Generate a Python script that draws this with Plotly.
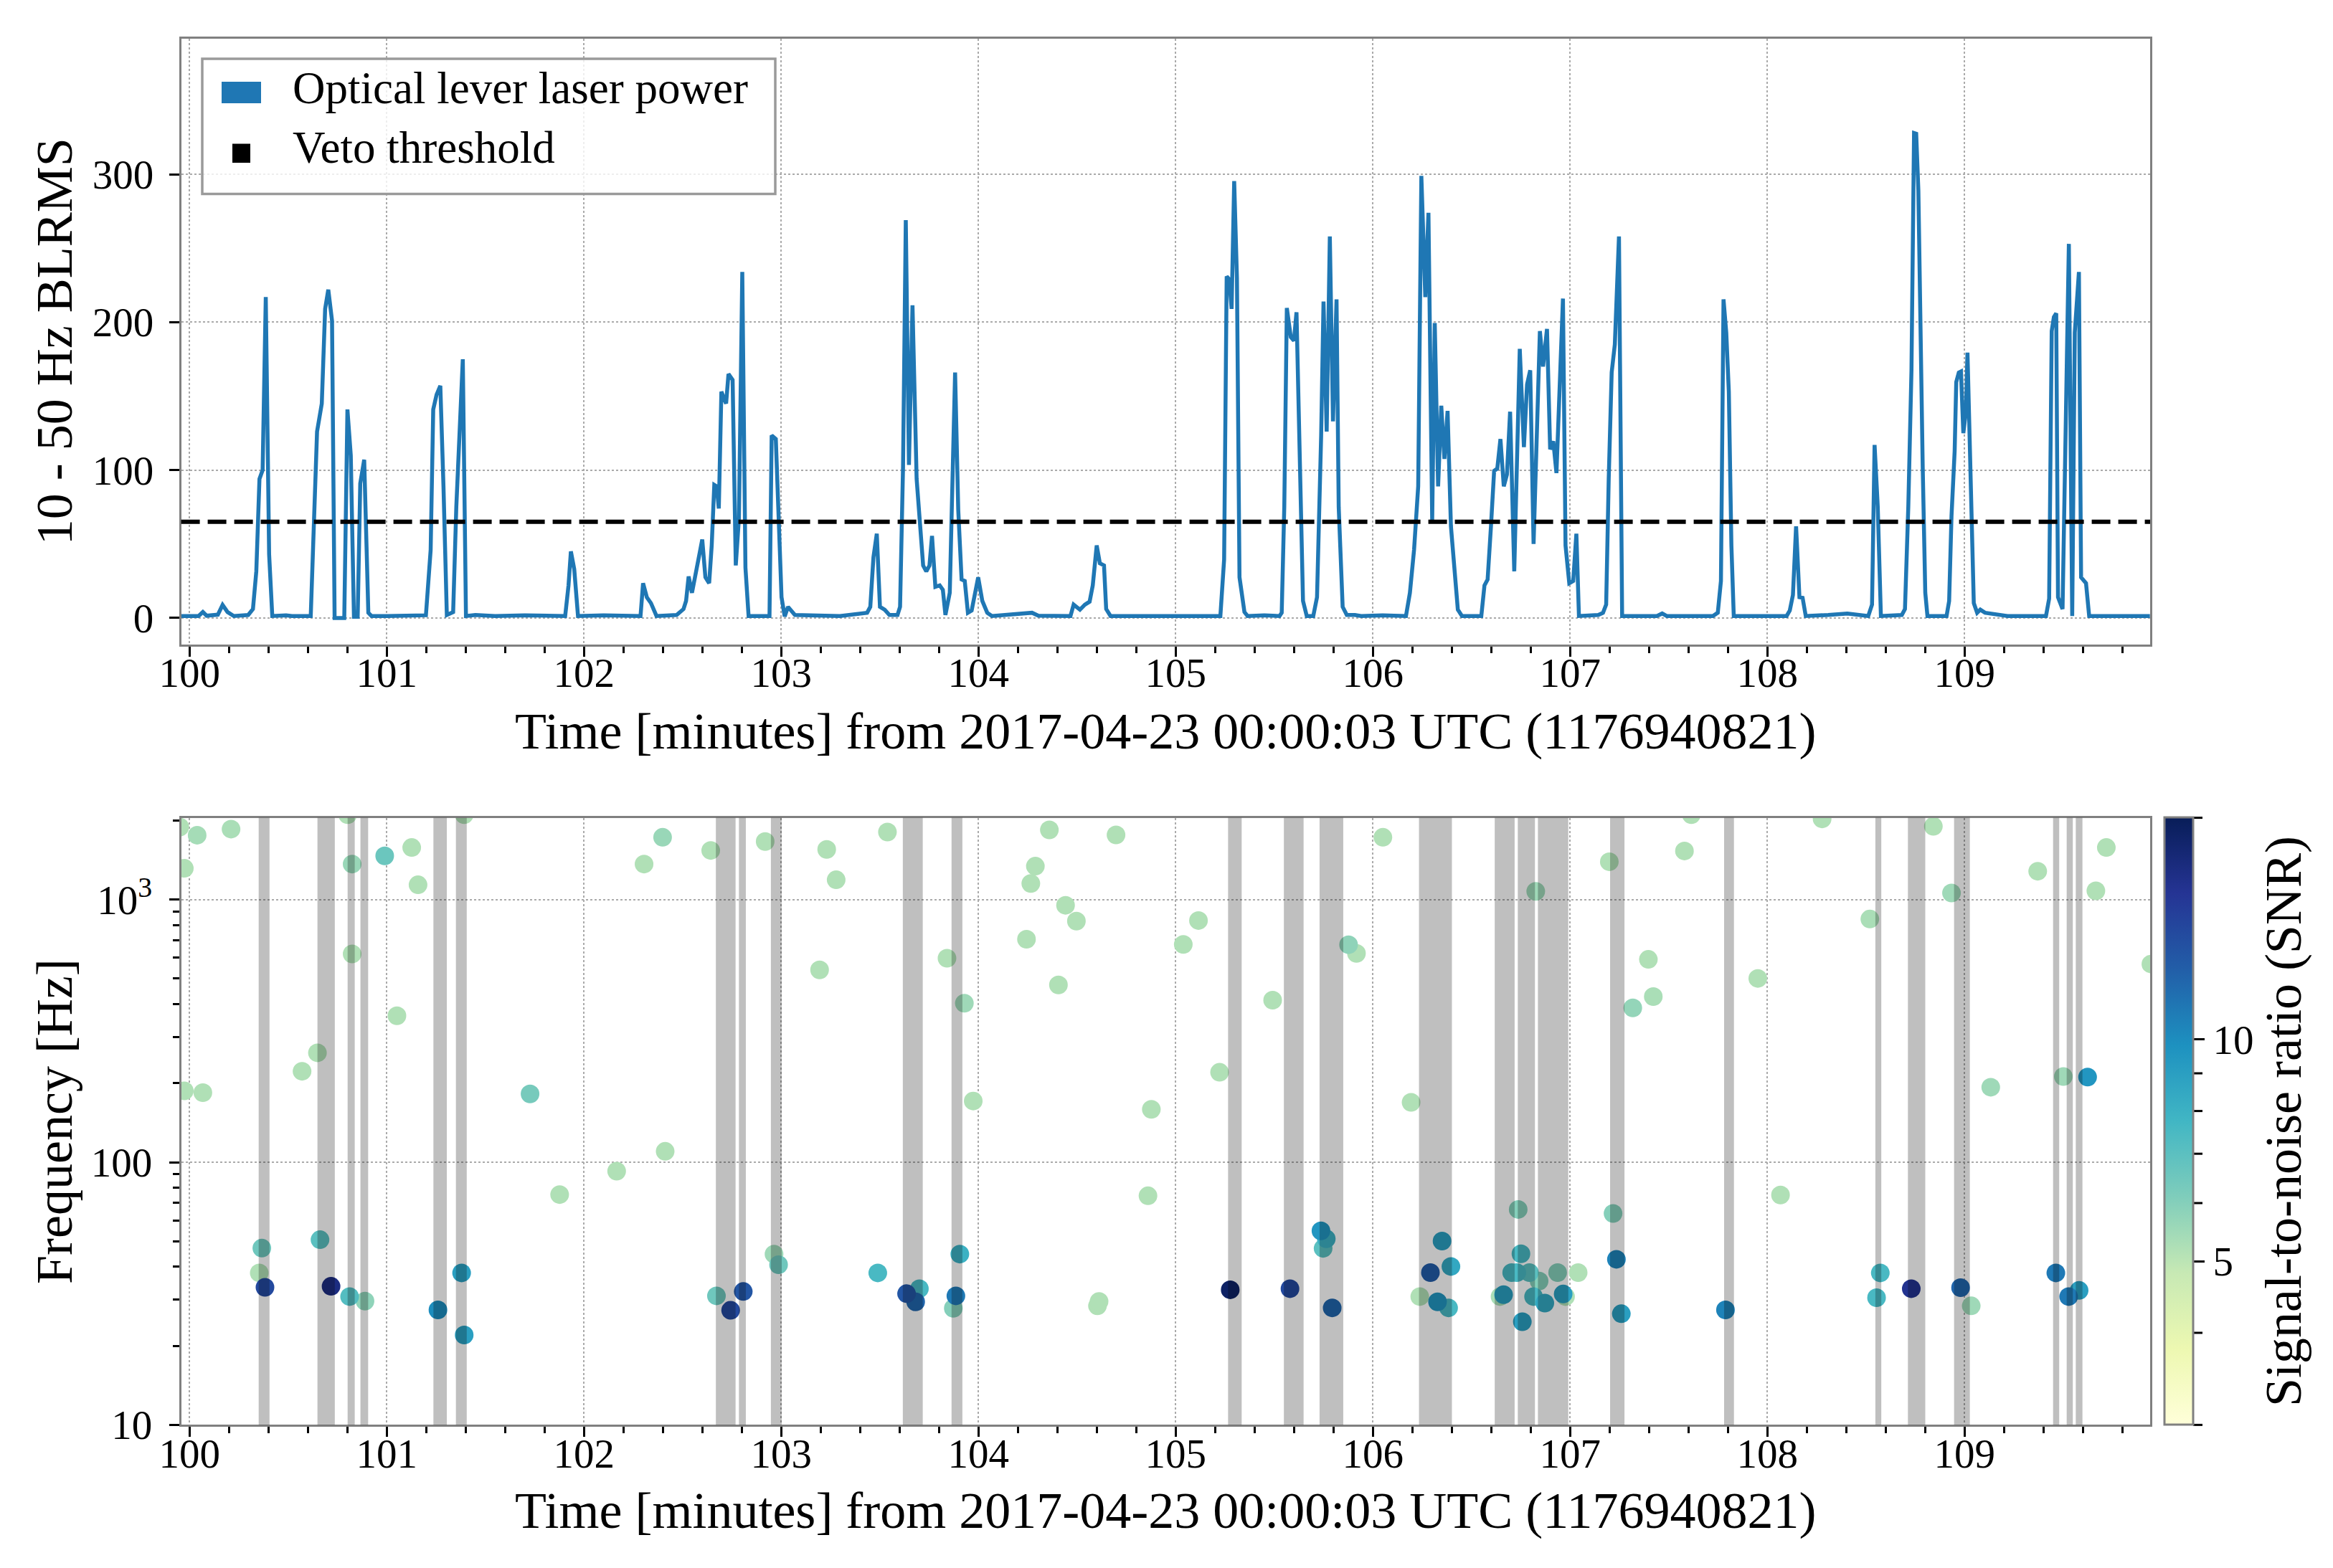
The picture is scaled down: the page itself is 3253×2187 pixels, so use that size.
import numpy as np
import plotly.graph_objects as go

W, H = 3253, 2187
FONT = "Liberation Serif"

# ---------------- data ----------------
BLRMS_T = [99.941, 100.046, 100.068, 100.087, 100.144, 100.168, 100.193, 100.225, 100.298, 100.322,
           100.339, 100.355, 100.371, 100.387, 100.404, 100.420, 100.490, 100.520, 100.615, 100.647,
           100.671, 100.688, 100.704, 100.723, 100.736, 100.785, 100.801, 100.818, 100.834, 100.853,
           100.866, 100.886, 100.907, 100.923, 101.000, 101.100, 101.199, 101.223, 101.236, 101.253,
           101.272, 101.288, 101.305, 101.337, 101.353, 101.386, 101.402, 101.450, 101.550, 101.700,
           101.905, 101.922, 101.934, 101.951, 101.970, 102.100, 102.287, 102.300, 102.319, 102.340,
           102.368, 102.470, 102.505, 102.518, 102.531, 102.548, 102.567, 102.583, 102.600, 102.616,
           102.635, 102.648, 102.661, 102.673, 102.684, 102.697, 102.721, 102.733, 102.754, 102.770,
           102.786, 102.803, 102.819, 102.835, 102.924, 102.941, 102.952, 102.973, 103.002, 103.018,
           103.035, 103.054, 103.070, 103.298, 103.436, 103.452, 103.468, 103.485, 103.501, 103.525,
           103.549, 103.590, 103.603, 103.618, 103.632, 103.648, 103.666, 103.687, 103.720, 103.736,
           103.752, 103.765, 103.782, 103.804, 103.820, 103.833, 103.855, 103.882, 103.898, 103.915,
           103.931, 103.947, 103.966, 103.999, 104.020, 104.045, 104.069, 104.272, 104.304, 104.467,
           104.483, 104.515, 104.540, 104.564, 104.580, 104.600, 104.616, 104.637, 104.648, 104.670,
           105.018, 105.227, 105.246, 105.259, 105.272, 105.284, 105.297, 105.311, 105.324, 105.349,
           105.365, 105.450, 105.527, 105.538, 105.551, 105.564, 105.584, 105.600, 105.613, 105.625,
           105.646, 105.665, 105.698, 105.717, 105.738, 105.750, 105.766, 105.782, 105.798, 105.816,
           105.827, 105.847, 105.868, 105.909, 105.941, 106.050, 106.168, 106.188, 106.209, 106.230,
           106.246, 106.266, 106.282, 106.301, 106.314, 106.331, 106.347, 106.363, 106.379, 106.396,
           106.412, 106.431, 106.452, 106.550, 106.566, 106.582, 106.599, 106.615, 106.631, 106.647,
           106.664, 106.680, 106.696, 106.717, 106.745, 106.766, 106.782, 106.798, 106.815, 106.847,
           106.863, 106.883, 106.899, 106.915, 106.931, 106.964, 106.977, 106.996, 107.016, 107.032,
           107.045, 107.143, 107.167, 107.183, 107.196, 107.211, 107.227, 107.248, 107.264, 107.350,
           107.440, 107.467, 107.490, 107.600, 107.724, 107.749, 107.765, 107.778, 107.792, 107.805,
           107.818, 107.830, 107.984, 108.098, 108.114, 108.130, 108.146, 108.163, 108.179, 108.195,
           108.309, 108.406, 108.512, 108.531, 108.544, 108.560, 108.576, 108.682, 108.698, 108.715,
           108.731, 108.744, 108.755, 108.766, 108.788, 108.801, 108.812, 108.909, 108.922, 108.934,
           108.950, 108.958, 108.971, 108.982, 108.994, 109.007, 109.015, 109.028, 109.039, 109.047,
           109.064, 109.080, 109.104, 109.218, 109.413, 109.429, 109.442, 109.453, 109.465, 109.474,
           109.497, 109.513, 109.529, 109.546, 109.559, 109.580, 109.591, 109.616, 109.632, 109.786,
           109.940]
BLRMS_V = [1.3, 1.3, 4.0, 1.5, 2.2, 8.8, 4.0, 1.3, 2.0, 6.0,
           31.5, 94, 100, 217, 43, 1.3, 1.8, 1.3, 1.3, 126,
           145, 209, 222, 201, 0.0, 0.0, 141, 110, 0.8, 0.8,
           91, 107, 3.5, 1.3, 1.3, 1.8, 1.8, 46, 141, 151,
           157, 89, 2.0, 4.0, 75, 175, 1.3, 2.0, 1.3, 1.8,
           1.3, 22, 45, 33, 1.3, 1.8, 1.3, 23.5, 14, 10,
           1.3, 2.0, 6.0, 11.5, 28, 17, 30, 41, 53, 27.5,
           23.5, 49, 90, 89, 74, 153, 145, 165, 161, 35.5,
           67.5, 234, 34, 1.3, 1.8, 1.3, 123.5, 121, 14, 1.0,
           7.5, 5.0, 2.0, 1.3, 3.5, 7.5, 41, 57, 7.5, 5.6,
           2.0, 2.0, 7.5, 102, 269, 103.5, 211.5, 94, 35.5, 31.5,
           35.5, 55.5, 21, 22, 19, 2.0, 17, 166, 73, 26,
           25, 3.5, 5.0, 27.5, 11.5, 3.5, 1.3, 3.5, 1.5, 1.3,
           9.0, 5.6, 9.0, 11, 22, 49, 37, 35.5, 6.0, 1.3,
           1.3, 1.3, 39.5, 231, 229, 209, 295.5, 230, 27.5, 4.0,
           1.3, 1.8, 1.3, 3.5, 75, 209.6, 190, 187.5, 206.7, 129,
           11.5, 1.3, 1.3, 14, 123.5, 214, 126, 258, 133, 215.5,
           75, 7.5, 2.0, 2.0, 1.3, 1.8, 1.3, 17, 46, 89,
           299, 217, 274, 66, 199.5, 89, 143.5, 107.5, 140, 62,
           38, 5.6, 1.3, 1.3, 22, 26, 62, 99.5, 101, 121,
           89, 97, 139.5, 31.5, 182, 115.5, 158, 167.5, 50, 194,
           170, 195.5, 114, 119.5, 98, 216, 49, 23.5, 25, 57,
           1.3, 2.0, 3.5, 9.0, 94, 166, 185, 258, 1.3, 1.3,
           1.3, 3.0, 1.3, 1.3, 1.3, 3.5, 25, 215.5, 193, 153,
           49, 1.3, 1.3, 1.3, 5.0, 15.5, 62, 14, 13.6, 1.3,
           2.0, 3.0, 1.3, 9.0, 117, 75.5, 1.3, 2.0, 6.0, 75.5,
           167.5, 328, 327.5, 289, 102, 17, 1.3, 1.3, 11.5, 69,
           113, 159.5, 166, 166.7, 125, 139.5, 179.5, 118, 49, 10,
           3.5, 5.6, 3.5, 1.3, 1.3, 13, 194, 203.5, 206, 14,
           6.0, 129, 253, 1.3, 193, 234, 27.5, 23.5, 1.3, 1.3,
           1.3]
THRESHOLD = 65

VETO_START = [100.351, 100.649, 100.802, 100.867, 101.237, 101.351, 102.669, 102.786, 102.948,
              103.617, 103.864, 105.266, 105.549, 105.730, 106.234, 106.618, 106.735, 106.837,
              107.203, 107.781, 108.548, 108.713, 108.947, 109.449, 109.518, 109.564]
VETO_END = [100.406, 100.737, 100.838, 100.906, 101.305, 101.406, 102.769, 102.821, 103.003,
            103.718, 103.919, 105.335, 105.649, 105.850, 106.401, 106.719, 106.822, 106.991,
            107.276, 107.831, 108.578, 108.801, 109.027, 109.480, 109.549, 109.598]

EVT_T = [99.951, 99.974, 100.039, 100.211, 99.974, 100.068, 100.367, 100.354, 100.383, 100.649,
         100.571, 100.662, 100.718, 100.812, 100.890, 100.825, 100.825, 100.802, 100.990, 101.127,
         101.159, 101.052, 101.260, 101.380, 101.393, 101.393, 101.727, 101.877, 102.166, 102.412,
         102.305, 102.399, 102.643, 102.919, 102.672, 102.744, 102.808, 102.964, 102.987, 103.195,
         103.231, 103.279, 103.539, 103.490, 103.636, 103.701, 103.682, 103.841, 103.886, 103.906,
         103.873, 103.929, 103.974, 104.244, 104.266, 104.289, 104.360, 104.442, 104.497, 104.406,
         104.698, 104.604, 104.612, 104.877, 104.860, 105.116, 105.039, 105.223, 105.277, 105.492,
         105.580, 105.737, 105.764, 105.748, 105.794, 105.877, 105.917, 106.051, 106.194, 106.826,
         107.199, 107.397, 107.422, 107.318, 106.238, 106.292, 106.351, 106.396, 106.328, 106.384,
         106.645, 106.663, 106.704, 106.730, 106.737, 106.751, 106.794, 106.758, 106.843, 106.815,
         106.872, 106.937, 106.965, 106.977, 107.041, 107.218, 107.235, 107.260, 107.580, 107.615,
         107.788, 107.952, 108.067, 108.278, 108.520, 108.554, 108.573, 108.730, 108.842, 108.934,
         108.980, 109.034, 109.133, 109.371, 109.463, 109.501, 109.528, 109.581, 109.624, 109.666,
         109.719, 109.945]
EVT_F = [1888, 1315, 1758, 1854, 187, 184, 47.1, 37.9, 33.4, 261,
         222, 50.7, 33.7, 30.8, 29.6, 1365, 621, 2104, 1466, 1578,
         1138, 361, 27.4, 37.9, 22.0, 2104, 182, 75.3, 92.5, 110,
         1365, 1726, 1538, 1663, 31.0, 27.3, 32.2, 44.7, 40.7, 540,
         1552, 1189, 1807, 37.9, 31.6, 33.0, 29.4, 598, 31.0, 44.7,
         27.8, 403, 171, 706, 1151, 1340, 1841, 951, 828, 473,
         1762, 28.4, 29.5, 159, 74.5, 832, 675, 220, 32.7, 414,
         33.0, 54.8, 51.1, 47.0, 27.9, 673, 624, 1726, 169, 1074,
         1393, 592, 427, 387, 30.8, 38.0, 50.1, 40.1, 29.4, 27.9,
         30.8, 31.3, 38.0, 38.0, 66.1, 44.8, 38.0, 24.7, 35.3, 30.8,
         29.1, 38.0, 31.5, 30.8, 38.0, 63.8, 42.7, 26.5, 1531, 2104,
         27.4, 501, 75.0, 2028, 843, 30.5, 37.9, 33.0, 1901, 1059,
         33.3, 28.4, 193, 1282, 37.9, 212, 30.8, 32.5, 211, 1079,
         1578, 568]
EVT_SNR = [5.2, 5.2, 5.4, 5.3, 5.2, 5.2, 6.5, 5.2, 14, 5.2,
           5.2, 7.0, 17, 7.2, 5.8, 5.6, 5.2, 5.2, 6.6, 5.2,
           5.2, 5.2, 10, 9, 9, 5.2, 6.3, 5.2, 5.2, 5.2,
           5.2, 5.6, 5.2, 5.2, 6.5, 14, 13, 5.5, 6.5, 5.2,
           5.2, 5.2, 5.2, 7.5, 13, 7.5, 12, 5.2, 11, 8,
           6, 5.5, 5.2, 5.2, 5.2, 5.2, 5.2, 5.2, 5.2, 5.2,
           5.2, 5.2, 5.2, 5.2, 5.2, 5.2, 5.2, 5.2, 19, 5.2,
           14, 9.5, 8, 7, 12, 5.8, 5.2, 5.2, 5.2, 5.5,
           5.2, 5.2, 5.3, 5.7, 5.2, 12.5, 9, 8.5, 9.5, 7.5,
           5.3, 9, 7.5, 7.5, 6, 7.5, 7, 9, 6, 7.5,
           8.5, 6, 9, 5.2, 5.2, 6, 10.5, 9, 5.2, 5.2,
           10.5, 5.2, 5.2, 5.2, 5.3, 7.5, 7.5, 16, 5.2, 5.5,
           12, 5.5, 5.5, 5.2, 11, 5.5, 11, 9, 9.5, 5.2,
           5.2, 5.2]

X_RANGE = [99.958, 109.941]
XTICKS = list(range(100, 110))
TOP_YRANGE = [-18, 392]
TOP_YTICKS = [0, 100, 200, 300]
BOT_YRANGE = [10, 2048]
BOT_YTICKS = [10, 100, 1000]
BOT_YTICKTEXT = ["10", "100", "10<sup>3</sup>"]
BOT_YMINOR = [20, 30, 40, 50, 60, 70, 80, 90, 200, 300, 400, 500, 600, 700, 800, 900, 2000]
SNR_RANGE = [3, 20]
CBAR_TICKS = [5, 10]
CBAR_TICKTEXT = ["5", "10"]
CBAR_MINOR = [3, 4, 6, 7, 8, 9, 20]
YLGNBU = ["#ffffd9", "#edf8b1", "#c7e9b4", "#7fcdbb", "#41b6c4",
          "#1d91c0", "#225ea8", "#253494", "#081d58"]

# ---------------- layout helpers ----------------
def px(x):
    return x / W

def py(y):
    return 1 - y / H

XDOM = [px(244.6), px(2990)]
TOP_DOM = [py(891), py(45.5)]
BOT_DOM = [py(1979.4), py(1132.6)]
CB_X0, CB_W = 3010, 40

fig = go.Figure()

fig.add_trace(go.Scatter(x=BLRMS_T, y=BLRMS_V, mode="lines",
                         line=dict(color="#1f77b4", width=5.5),
                         showlegend=False, xaxis="x", yaxis="y"))

order = np.argsort(EVT_SNR, kind="stable")
ev_t = np.array(EVT_T)[order]
ev_f = np.array(EVT_F)[order]
ev_s = np.array(EVT_SNR)[order]
cs = [[i / (len(YLGNBU) - 1), c] for i, c in enumerate(YLGNBU)]
lmin, lmax = np.log10(SNR_RANGE[0]), np.log10(SNR_RANGE[1])
fig.add_trace(go.Scatter(
    x=ev_t, y=ev_f, mode="markers", xaxis="x2", yaxis="y2", showlegend=False,
    marker=dict(size=26, color=np.log10(ev_s), colorscale=cs, cmin=lmin, cmax=lmax,
                line=dict(width=0),
                colorbar=dict(x=px(CB_X0), xanchor="left", xref="paper",
                              y=BOT_DOM[0], yanchor="bottom", len=BOT_DOM[1] - BOT_DOM[0],
                              lenmode="fraction", thickness=CB_W, thicknessmode="pixels",
                              xpad=0, ypad=0, outlinecolor="#808080", outlinewidth=3,
                              tickmode="array", tickvals=list(np.log10(CBAR_TICKS)),
                              ticktext=CBAR_TICKTEXT, ticks="outside", ticklen=15,
                              tickwidth=3, tickcolor="black",
                              tickfont=dict(family=FONT, size=57, color="black"))),
))

shapes = []
for s, e in zip(VETO_START, VETO_END):
    shapes.append(dict(type="rect", xref="x2", yref="y2 domain", x0=s, x1=e, y0=0, y1=1,
                       fillcolor="rgba(0,0,0,0.25)", line=dict(width=0), layer="above"))
shapes.append(dict(type="line", xref="x domain", yref="y", x0=0, x1=1, y0=THRESHOLD, y1=THRESHOLD,
                   line=dict(color="black", width=6, dash="26px,11px"), layer="above"))
# colorbar minor ticks (log scale)
for v in CBAR_MINOR:
    frac = (np.log10(v) - lmin) / (lmax - lmin)
    yy = BOT_DOM[0] + frac * (BOT_DOM[1] - BOT_DOM[0])
    shapes.append(dict(type="line", xref="paper", yref="paper",
                       x0=px(CB_X0 + CB_W), x1=px(CB_X0 + CB_W + 13), y0=yy, y1=yy,
                       line=dict(color="black", width=3), layer="above"))
# legend box
shapes.append(dict(type="rect", xref="paper", yref="paper", x0=px(274), x1=px(1073),
                   y0=py(262.5), y1=py(74), fillcolor="rgba(255,255,255,0.8)",
                   line=dict(color="#9a9a9a", width=3.5), layer="above"))
shapes.append(dict(type="rect", xref="paper", yref="paper", x0=px(301), x1=px(356),
                   y0=py(136), y1=py(106), fillcolor="#1f77b4", line=dict(width=0), layer="above"))
shapes.append(dict(type="rect", xref="paper", yref="paper", x0=px(316), x1=px(341),
                   y0=py(219), y1=py(192.5), fillcolor="black", line=dict(width=0), layer="above"))

tf = dict(family=FONT, size=72, color="black")
xtitle = "Time [minutes] from 2017-04-23 00:00:03 UTC (1176940821)"
annotations = [
    dict(text=xtitle, xref="paper", yref="paper", x=(XDOM[0] + XDOM[1]) / 2, y=py(1012),
         xanchor="center", yanchor="middle", showarrow=False, font=tf),
    dict(text=xtitle, xref="paper", yref="paper", x=(XDOM[0] + XDOM[1]) / 2, y=py(2099),
         xanchor="center", yanchor="middle", showarrow=False, font=tf),
    dict(text="10 - 50 Hz BLRMS", xref="paper", yref="paper", x=px(68),
         y=(TOP_DOM[0] + TOP_DOM[1]) / 2, xanchor="center", yanchor="middle",
         textangle=-90, showarrow=False, font=tf),
    dict(text="Frequency [Hz]", xref="paper", yref="paper", x=px(68),
         y=(BOT_DOM[0] + BOT_DOM[1]) / 2, xanchor="center", yanchor="middle",
         textangle=-90, showarrow=False, font=tf),
    dict(text="Signal-to-noise ratio (SNR)", xref="paper", yref="paper", x=px(3176),
         y=(BOT_DOM[0] + BOT_DOM[1]) / 2, xanchor="center", yanchor="middle",
         textangle=-90, showarrow=False, font=tf),
    dict(text="Optical lever laser power", xref="paper", yref="paper", x=px(398), y=py(115),
         xanchor="left", yanchor="middle", showarrow=False,
         font=dict(family=FONT, size=63, color="black")),
    dict(text="Veto threshold", xref="paper", yref="paper", x=px(398), y=py(198),
         xanchor="left", yanchor="middle", showarrow=False,
         font=dict(family=FONT, size=63, color="black")),
]

tickfont = dict(family=FONT, size=57, color="black")
common_x = dict(domain=XDOM, range=X_RANGE, tickmode="array", tickvals=XTICKS,
                ticktext=[str(v) for v in XTICKS], showline=True, linecolor="#808080",
                linewidth=3, mirror=True, ticks="outside", ticklen=14, tickwidth=3,
                tickcolor="black", tickfont=tickfont, showgrid=True, gridcolor="#aaaaaa",
                griddash="dot", gridwidth=2, zeroline=False, ticklabelstandoff=-26,
                automargin=False,
                minor=dict(ticks="outside", ticklen=9, tickwidth=2.5, tickcolor="black",
                           dtick=0.2, tick0=100, showgrid=False))

fig.update_layout(
    width=W, height=H, margin=dict(l=0, r=0, t=0, b=0, autoexpand=False),
    paper_bgcolor="white", plot_bgcolor="white",
    xaxis=dict(common_x, anchor="y"),
    yaxis=dict(domain=TOP_DOM, range=TOP_YRANGE, tickmode="array", tickvals=TOP_YTICKS,
               showline=True, linecolor="#808080", linewidth=3, mirror=True,
               ticks="outside", ticklen=14, tickwidth=3, tickcolor="black",
               tickfont=tickfont, showgrid=True, gridcolor="#aaaaaa", griddash="dot",
               gridwidth=2, zeroline=False, anchor="x", ticklabelstandoff=10,
               automargin=False),
    xaxis2=dict(common_x, anchor="y2"),
    yaxis2=dict(domain=BOT_DOM, type="log", range=list(np.log10(BOT_YRANGE)),
                tickmode="array", tickvals=BOT_YTICKS, ticktext=BOT_YTICKTEXT,
                showline=True, linecolor="#808080", linewidth=3, mirror=True,
                ticks="outside", ticklen=14, tickwidth=3, tickcolor="black",
                tickfont=tickfont, showgrid=True, gridcolor="#aaaaaa", griddash="dot",
                gridwidth=2, zeroline=False, anchor="x2", ticklabelstandoff=12,
                automargin=False,
                minor=dict(tickmode="array", tickvals=BOT_YMINOR, ticks="outside",
                           ticklen=9, tickwidth=2.5, tickcolor="black", showgrid=False)),
    shapes=shapes, annotations=annotations, showlegend=False,
)

fig.write_html("out.html")
